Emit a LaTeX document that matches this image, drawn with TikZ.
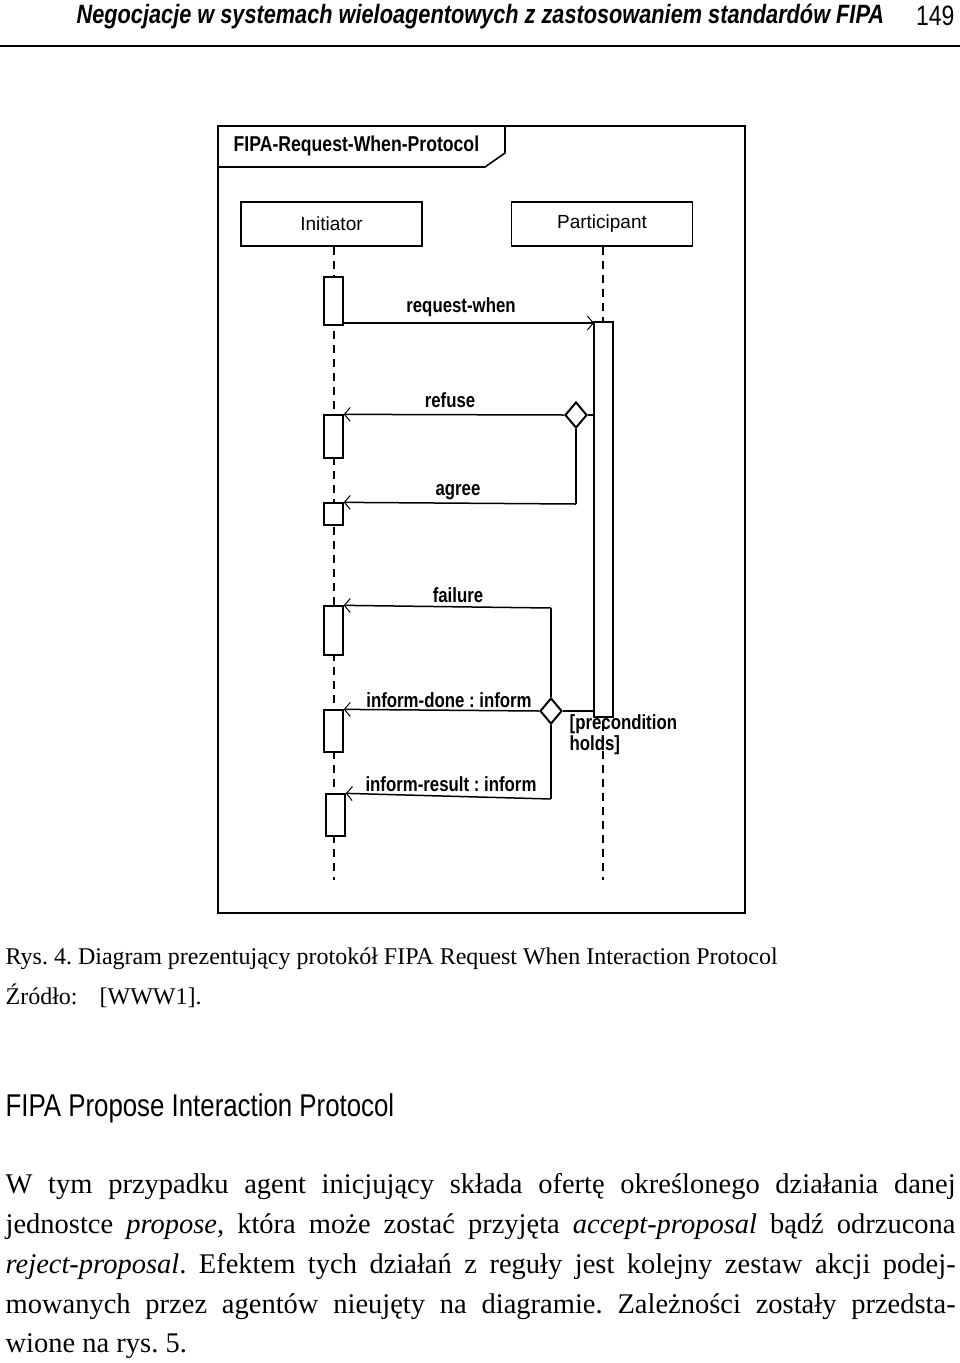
\documentclass[tikz,border=0pt]{standalone}
\usepackage{fontspec}
\setmainfont{Liberation Serif}
\newfontfamily\dsans{Liberation Sans}
\newfontfamily\nsans[FakeStretch=0.82]{Liberation Sans}
\usetikzlibrary{arrows.meta,shapes.geometric}
\frenchspacing
\begin{document}
\begin{tikzpicture}[x=1pt,y=-1pt,line width=1.3pt,
  lbl/.style={font=\nsans\bfseries\fontsize{20.5}{20.5}\selectfont,inner sep=0pt},
  actor/.style={draw,line width=1.6pt,minimum width=181pt,minimum height=44pt,font=\dsans\fontsize{19}{19}\selectfont},
  act/.style={draw,line width=1.3pt,fill=white,minimum width=19pt,inner sep=0pt},
  life/.style={dashed,dash pattern=on 8pt off 6pt,line width=1.5pt},
  msg/.style={line width=1.5pt,-{Straight Barb[length=6pt,width=14pt,line width=1pt]}},
  dia/.style={draw,line width=2pt,fill=white,diamond,minimum width=22pt,minimum height=26pt,inner sep=0pt},
  body/.style={font=\fontsize{28.5}{40}\selectfont,anchor=base west,inner sep=0pt}]
\useasboundingbox (0,0) rectangle (960,1363);
% header
\node[anchor=base west,inner sep=0pt,font=\nsans\itshape\bfseries\fontsize{26.5}{26.5}\selectfont] (hd) at (76,23) {Negocjacje w systemach wieloagentowych z zastosowaniem standardów FIPA};
\node[anchor=base east,inner sep=0pt,font=\nsans\fontsize{28}{28}\selectfont] (pg) at (955,25) {149};
\draw[line width=1.6pt] (0,46) -- (960,46);
% frame
\draw[line width=1.6pt] (218,126) rectangle (745,913);
\draw[line width=1.6pt] (218,167) -- (485,167) -- (505,153) -- (505,126);
\node[lbl,anchor=west,font=\nsans\bfseries\fontsize{21.5}{21.5}\selectfont] (title) at (233,146) {FIPA-Request-When-Protocol};
% actors
\node[actor] (ini) at (331.5,224) {Initiator};
\node[actor] (par) at (602,224) {Participant};
\coordinate (iend) at (334,880);
\coordinate (pend) at (603,880);
\draw[life] (ini.south -| 334,0) -- (iend);
\draw[life] (par.south -| 603,0) -- (pend);
% activations
\node[act,minimum height=48pt] (a1) at (333.5,301) {};
\node[act,minimum height=43pt] (a2) at (333.5,436.5) {};
\node[act,minimum height=22pt] (a3) at (333.5,514) {};
\node[act,minimum height=49pt] (a4) at (333.5,630.5) {};
\node[act,minimum height=42pt] (a5) at (333.5,731) {};
\node[act,minimum height=42pt] (a6) at (335.5,815) {};
\node[act,minimum height=395pt] (pa) at (603.5,519.5) {};
% request-when
\coordinate (r1) at (343,323);
\coordinate (r2) at (594,323);
\draw[msg] (r1) -- (r2);
\node[lbl] (lrw) at (461,307) {request-when};
% refuse / agree
\node[dia] (d1) at (576,415) {};
\coordinate (pa1) at (594,415);
\coordinate (ag) at (576,504);
\draw (pa1) -- (d1.east);
\draw[msg] (d1.west) -- (a2.north east);
\draw (d1.south) -- (ag);
\draw[msg] (ag) -- (a3.north east);
\node[lbl] (lrf) at (450,400) {refuse};
\node[lbl] (lag) at (458,492) {agree};
% failure / inform
\node[dia] (d2) at (551,711) {};
\coordinate (ftop) at (551,608);
\coordinate (fbot) at (551,799);
\coordinate (pa2) at (594,711);
\draw (pa2) -- (d2.east);
\draw[line width=2.2pt] (ftop) -- (d2.north);
\draw[line width=2.2pt] (d2.south) -- (fbot);
\draw[msg] (ftop) -- (a4.north east);
\draw[msg] (d2.west) -- (a5.north east);
\draw[msg] (fbot) -- (a6.north east);
\node[lbl] (lf) at (458,595) {failure};
\node[lbl] (lid) at (449,700) {inform-done : inform};
\node[lbl] (lir) at (451,784) {inform-result : inform};
\node[lbl,anchor=north west,align=left,font=\nsans\bfseries\fontsize{20.5}{21}\selectfont] (pre) at (569,714) {[precondition\\holds]};
% caption
\node[anchor=base west,inner sep=0pt,font=\fontsize{24}{24}\selectfont] (cap) at (5,964) {Rys. 4. Diagram prezentujący protokół FIPA Request When Interaction Protocol};
\node[anchor=base west,inner sep=0pt,font=\fontsize{24}{24}\selectfont] (src) at (5,1004) {Źródło:\hspace{22pt}[WWW1].};
% section heading
\node[anchor=base west,inner sep=0pt,font=\nsans\fontsize{31.5}{31.5}\selectfont] (sec) at (5,1116) {FIPA Propose Interaction Protocol};
% paragraph
\node[body] (p1) at (5,1193) {\makebox[950pt][s]{W tym przypadku agent inicjujący składa ofertę określonego działania danej}};
\node[body] (p2) at (5,1233) {\makebox[950pt][s]{jednostce \textit{propose}, która może zostać przyjęta \textit{accept-proposal} bądź odrzucona}};
\node[body] (p3) at (5,1273) {\makebox[950pt][s]{\textit{reject-proposal}. Efektem tych działań z reguły jest kolejny zestaw akcji podej-}};
\node[body] (p4) at (5,1313) {\makebox[950pt][s]{mowanych przez agentów nieujęty na diagramie. Zależności zostały przedsta-}};
\node[body] (p5) at (5,1352) {wione na rys. 5.};
\end{tikzpicture}
\end{document}
